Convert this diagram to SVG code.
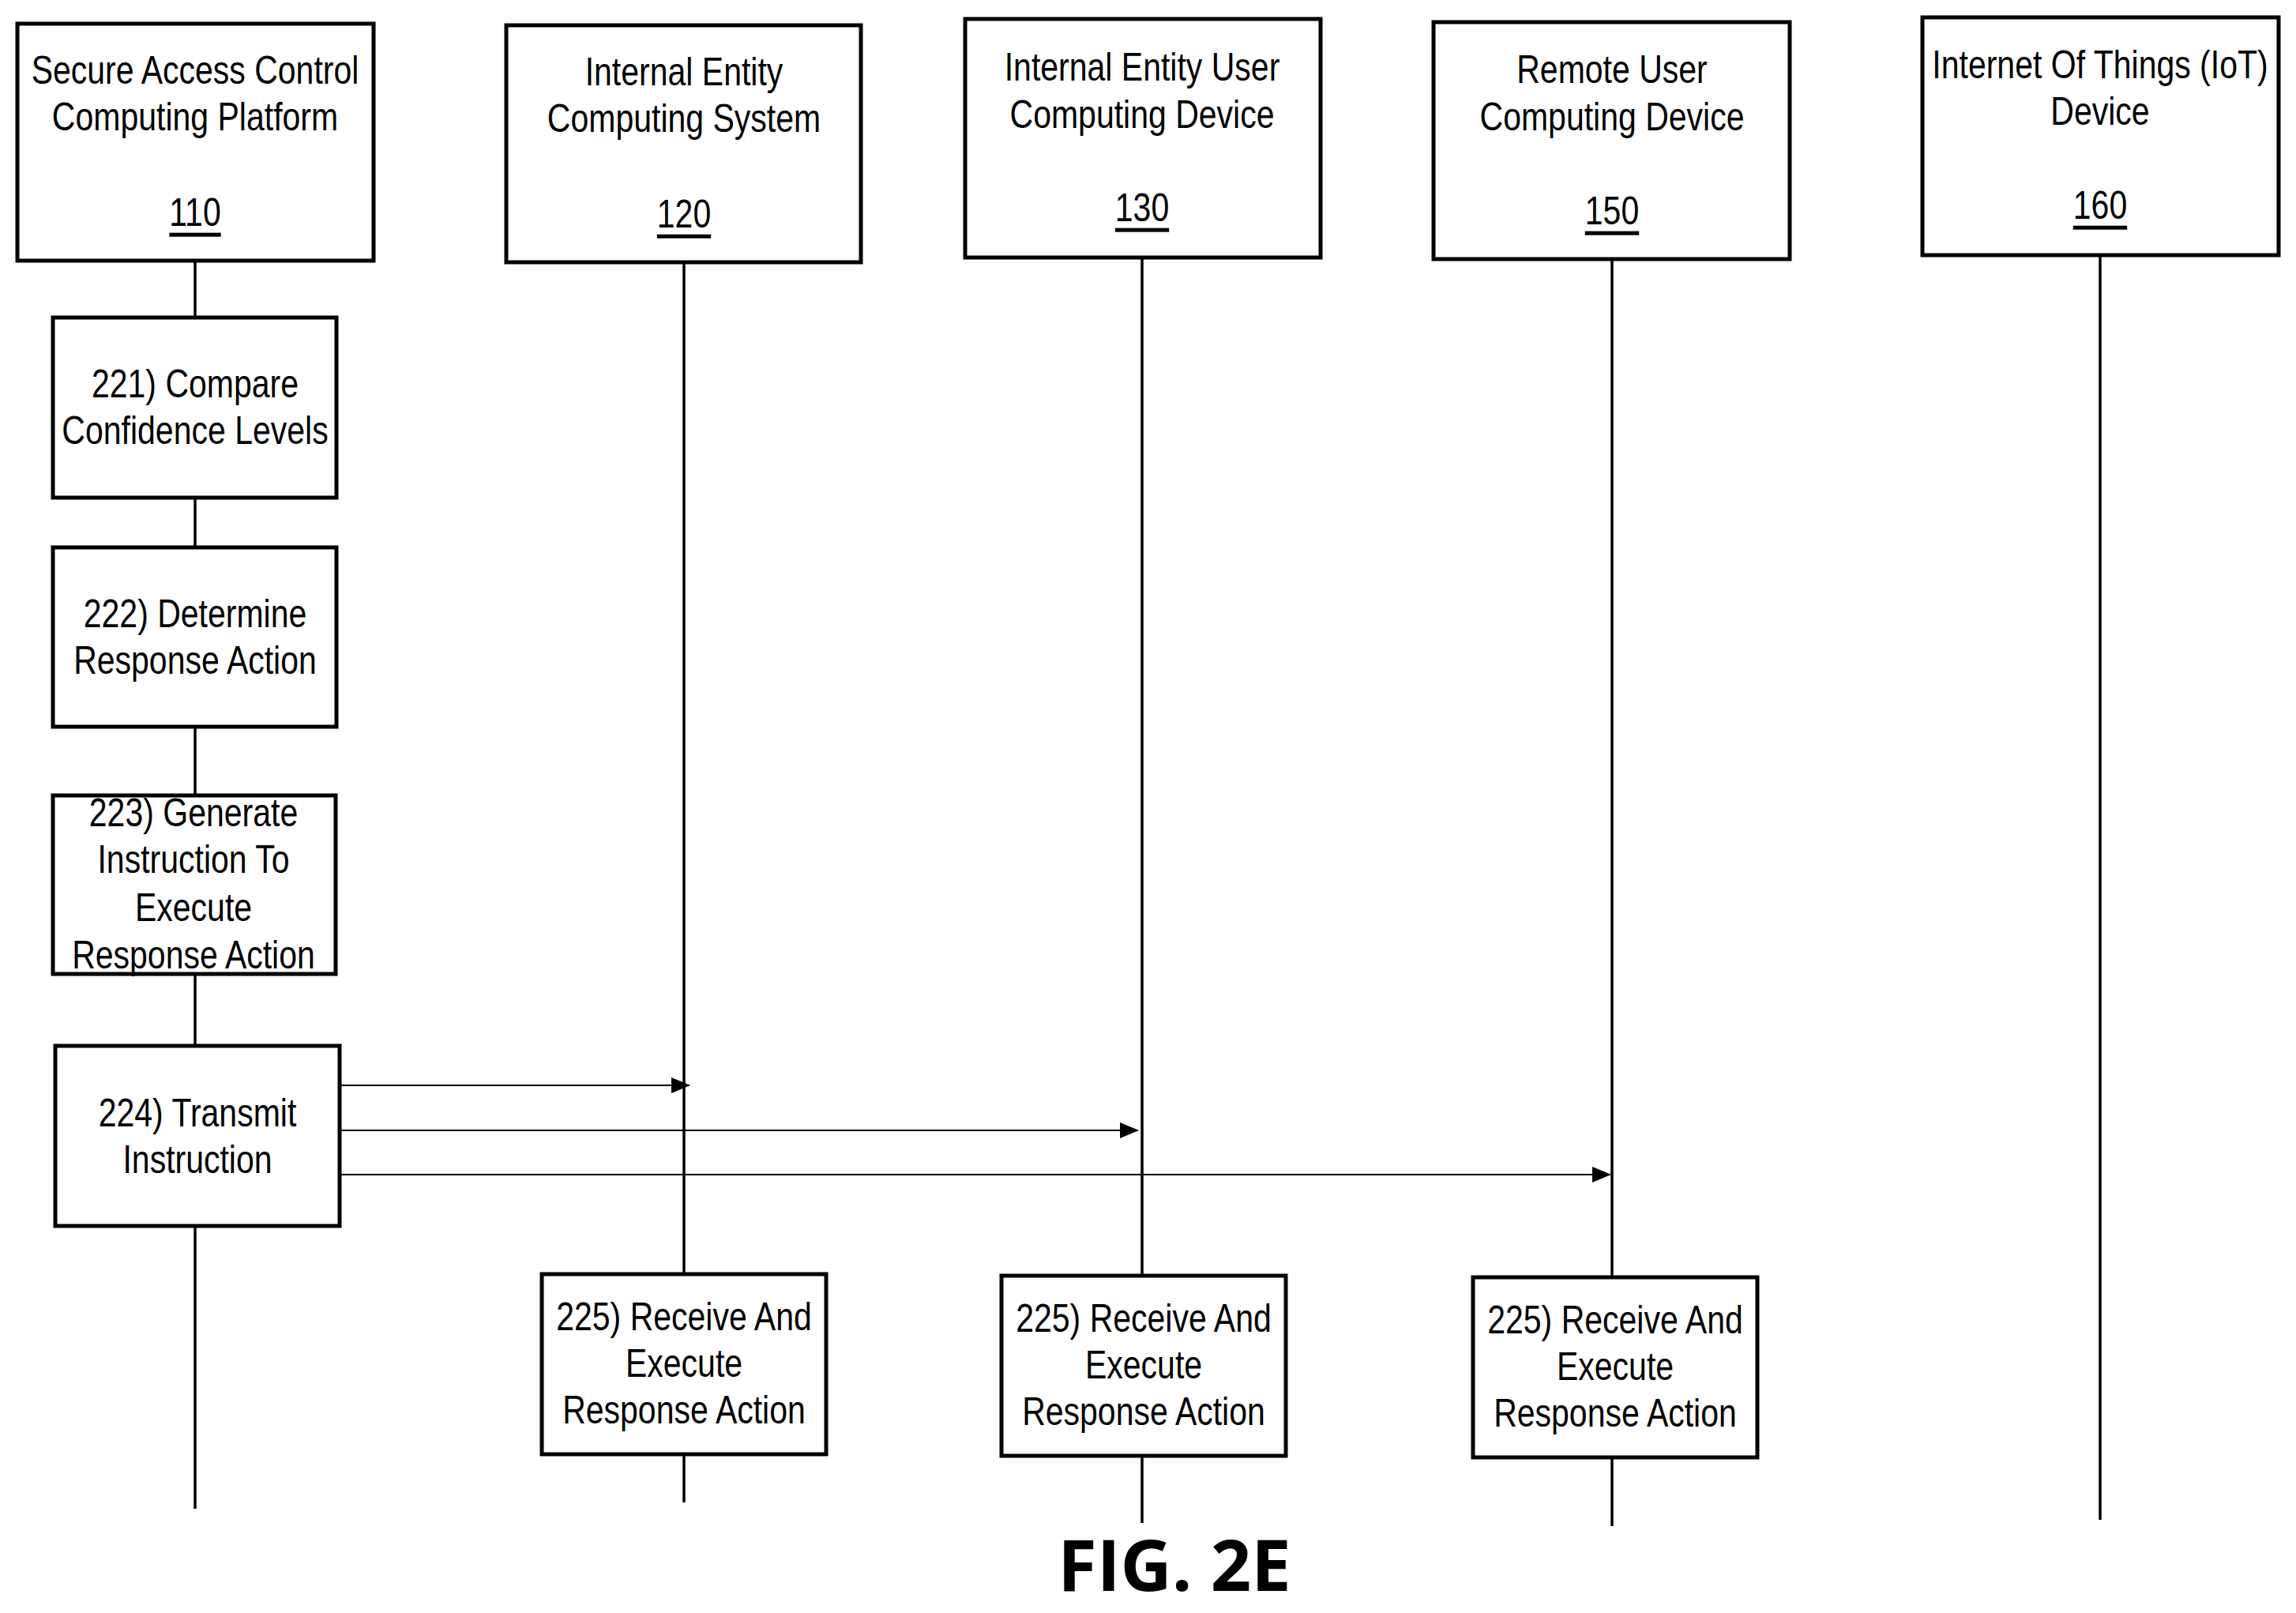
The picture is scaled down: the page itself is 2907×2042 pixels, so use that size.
<svg xmlns="http://www.w3.org/2000/svg" width="2907" height="2042" viewBox="0 0 2907 2042">
<style>
rect{fill:#fff;stroke:#000;stroke-width:5}
.l{stroke:#000;stroke-width:3.5}
.a{stroke:#000;stroke-width:1.8}
text{font-family:"Liberation Sans",sans-serif;font-size:50px;text-anchor:middle;dominant-baseline:central;fill:#000}
.u{text-decoration:underline}
.fig{font-family:"Open Sans","Noto Sans",sans-serif;font-weight:bold;font-size:90px;dominant-baseline:auto}
</style>
<defs><marker id="ah" markerWidth="24" markerHeight="20" refX="23" refY="10" orient="auto" markerUnits="userSpaceOnUse"><path d="M0,0L24,10L0,20Z" fill="#000"/></marker></defs>
<g id="lifelines">
<line class="l" x1="247" y1="330" x2="247" y2="1910"/>
<line class="l" x1="866" y1="332" x2="866" y2="1902"/>
<line class="l" x1="1446" y1="326" x2="1446" y2="1928"/>
<line class="l" x1="2041" y1="328" x2="2041" y2="1932"/>
<line class="l" x1="2659" y1="323" x2="2659" y2="1924"/>
</g>
<g id="n110"><rect x="22" y="30" width="451" height="300"/><g transform="translate(247,0) scale(0.82,1)"><text x="0" y="89">Secure Access Control</text><text x="0" y="148">Computing Platform</text><text class="u" x="0" y="269">110</text></g></g>
<g id="n120"><rect x="641" y="32" width="449" height="300"/><g transform="translate(866,0) scale(0.82,1)"><text x="0" y="91">Internal Entity</text><text x="0" y="150">Computing System</text><text class="u" x="0" y="271">120</text></g></g>
<g id="n130"><rect x="1222" y="24" width="450" height="302"/><g transform="translate(1446,0) scale(0.82,1)"><text x="0" y="85">Internal Entity User</text><text x="0" y="145">Computing Device</text><text class="u" x="0" y="263">130</text></g></g>
<g id="n150"><rect x="1815" y="28" width="451" height="300"/><g transform="translate(2041,0) scale(0.82,1)"><text x="0" y="88">Remote User</text><text x="0" y="148">Computing Device</text><text class="u" x="0" y="267">150</text></g></g>
<g id="n160"><rect x="2434" y="22" width="451" height="301"/><g transform="translate(2659,0) scale(0.82,1)"><text x="0" y="82">Internet Of Things (IoT)</text><text x="0" y="141">Device</text><text class="u" x="0" y="260">160</text></g></g>
<g id="s221"><rect x="67" y="402" width="359" height="228"/><g transform="translate(247,0) scale(0.82,1)"><text x="0" y="486">221) Compare</text><text x="0" y="545">Confidence Levels</text></g></g>
<g id="s222"><rect x="67" y="693" width="359" height="227"/><g transform="translate(247,0) scale(0.82,1)"><text x="0" y="777">222) Determine</text><text x="0" y="836">Response Action</text></g></g>
<g id="s223"><rect x="67" y="1007" width="358" height="226"/><g transform="translate(245,0) scale(0.82,1)"><text x="0" y="1029">223) Generate</text><text x="0" y="1088">Instruction To</text><text x="0" y="1149">Execute</text><text x="0" y="1209">Response Action</text></g></g>
<g id="s224"><rect x="70" y="1324" width="360" height="228"/><g transform="translate(250,0) scale(0.82,1)"><text x="0" y="1409">224) Transmit</text><text x="0" y="1468">Instruction</text></g></g>
<g id="s225a"><rect x="686" y="1613" width="360" height="228"/><g transform="translate(866,0) scale(0.82,1)"><text x="0" y="1667">225) Receive And</text><text x="0" y="1726">Execute</text><text x="0" y="1785">Response Action</text></g></g>
<g id="s225b"><rect x="1268" y="1615" width="360" height="228"/><g transform="translate(1448,0) scale(0.82,1)"><text x="0" y="1669">225) Receive And</text><text x="0" y="1728">Execute</text><text x="0" y="1787">Response Action</text></g></g>
<g id="s225c"><rect x="1865" y="1617" width="360" height="228"/><g transform="translate(2045,0) scale(0.82,1)"><text x="0" y="1671">225) Receive And</text><text x="0" y="1730">Execute</text><text x="0" y="1789">Response Action</text></g></g>
<g id="connectors">
<line class="a" x1="432" y1="1374" x2="873" y2="1374" marker-end="url(#ah)"/>
<line class="a" x1="432" y1="1431" x2="1441" y2="1431" marker-end="url(#ah)"/>
<line class="a" x1="432" y1="1487" x2="2039" y2="1487" marker-end="url(#ah)"/>
</g>
<text class="fig" x="1487" y="2014">FIG. 2E</text>
</svg>
